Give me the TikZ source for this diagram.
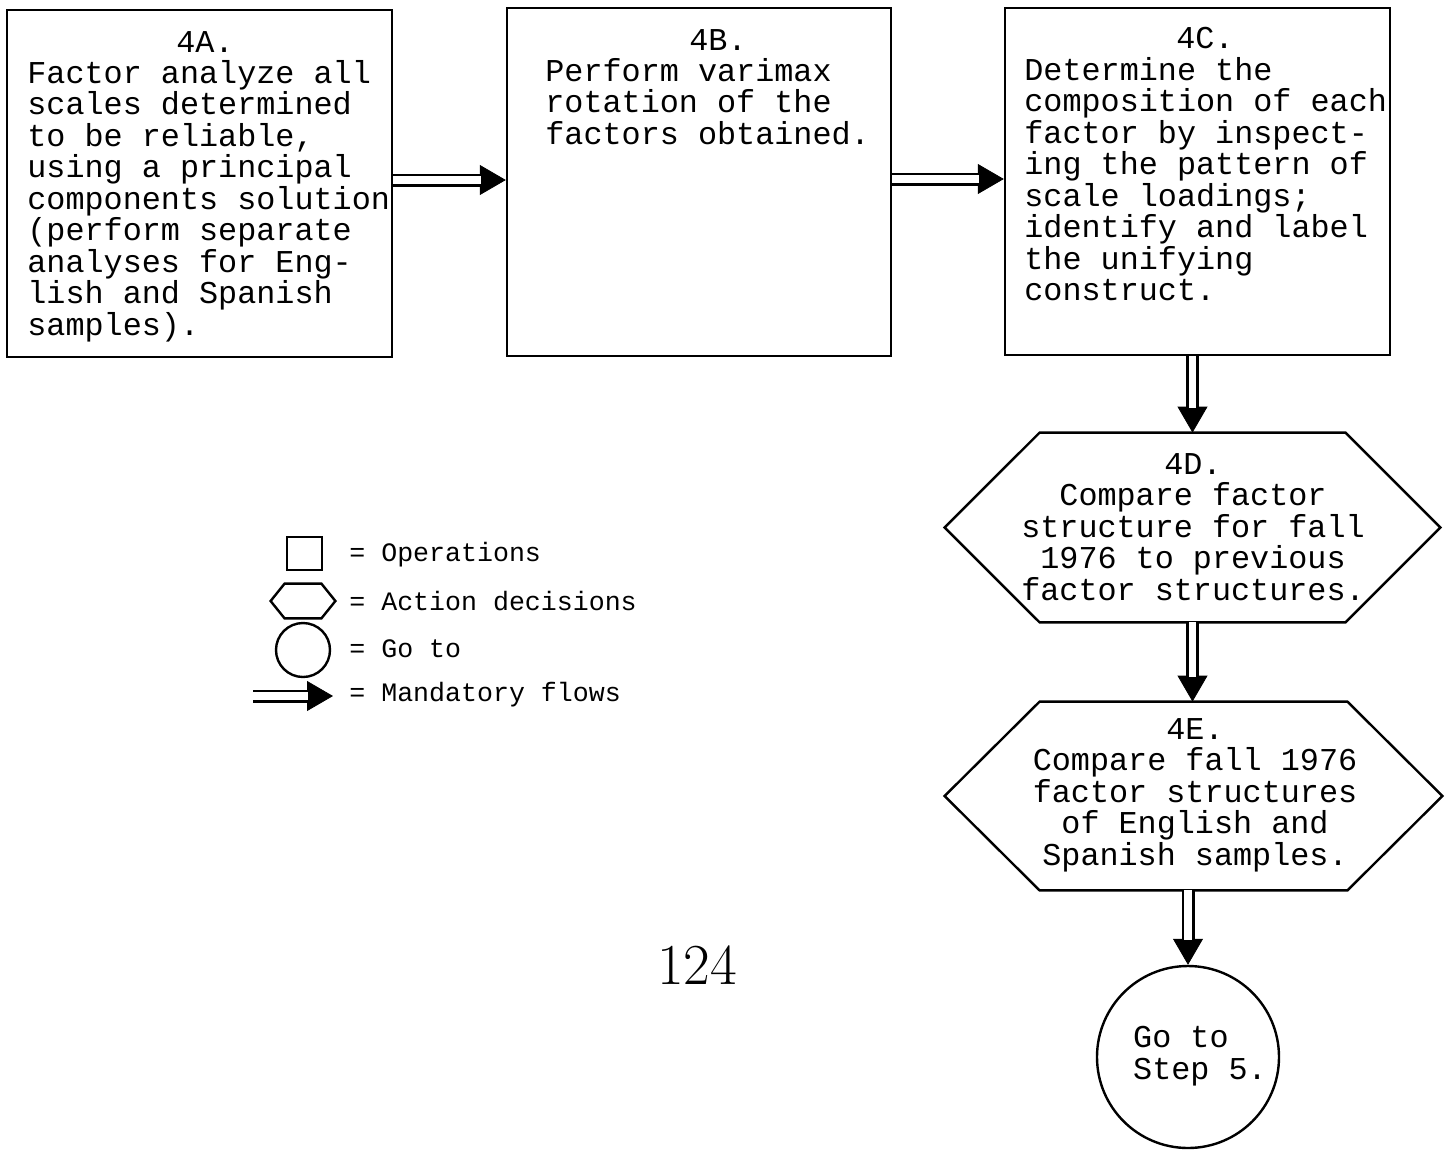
\documentclass[tikz,border=0pt]{standalone}
\usepackage{fontspec}
\setmonofont{Liberation Mono}
\usetikzlibrary{arrows.meta}

\tikzset{
  txt/.style={font=\ttfamily\fontsize{15.9}{15.75}\selectfont, inner sep=0pt},
  keytxt/.style={font=\ttfamily\fontsize{13.3}{13.3}\selectfont, inner sep=0pt, anchor=west},
  opbox/.style={draw, line width=1.2pt, minimum width=192.5pt, minimum height=173.5pt, inner sep=0pt},
  goto/.style={draw, circle, line width=1.2pt, inner sep=0pt},
  flow/.style={line width=6.5pt, -{Triangle[length=13pt,width=15pt,line width=0.4pt]},
    postaction={draw=white, line width=3.8pt, -, shorten >=12.5pt}}
}

% hexagon round a node: #1 node, #2 inset
\newcommand{\hexline}[2]{\draw[line width=1.2pt] (#1.west) -- ([xshift=#2]#1.north west)
  -- ([xshift=-#2]#1.north east) -- (#1.east) -- ([xshift=-#2]#1.south east)
  -- ([xshift=#2]#1.south west) -- cycle;}

\begin{document}
\begin{tikzpicture}[x=0.5pt, y=-0.5pt]
\useasboundingbox (0,0) rectangle (1452,1152);

% operations
\node[opbox] (a) at (199.5,183.5) {};
\node[txt] (a-head) at (205,42) {4A.};
\node[txt, align=left, anchor=north west] (a-text) at (27,60)
  {Factor analyze all\\scales determined\\to be reliable,\\using a principal\\components solution\\(perform separate\\analyses for Eng-\\lish and Spanish\\samples).};

\node[opbox, minimum width=192pt, minimum height=174pt] (b) at (699,182) {};
\node[txt] (b-head) at (718,40) {4B.};
\node[txt, align=left, anchor=north west] (b-text) at (545,58)
  {Perform varimax\\rotation of the\\factors obtained.};

\node[opbox] (c) at (1197.5,181.5) {};
\node[txt] (c-head) at (1205,38) {4C.};
\node[txt, align=left, anchor=north west] (c-text) at (1024,57)
  {Determine the\\composition of each\\factor by inspect-\\ing the pattern of\\scale loadings;\\identify and label\\the unifying\\construct.};

% action decisions
\node[minimum width=247.5pt, minimum height=94.5pt, inner sep=0pt] (d) at (1192.5,527.5) {};
\hexline{d}{47.5pt}
\node[txt, align=center] (d-text) at (1193,527)
  {4D.\\Compare factor\\structure for fall\\1976 to previous\\factor structures.};

\node[minimum width=248.5pt, minimum height=94pt, inner sep=0pt] (e) at (1193.5,796) {};
\hexline{e}{47.5pt}
\node[txt, align=center] (e-text) at (1195,795)
  {4E.\\Compare fall 1976\\factor structures\\of English and\\Spanish samples.};

% go to
\node[goto, minimum size=91pt] (g) at (1188,1057) {};
\node[txt, align=left] (g-text) at (1200,1056) {Go to\\Step 5.};

% mandatory flows
\draw[flow] ([yshift=1.75pt]a.east) -- ([yshift=1.75pt]a.east -| b.west);
\draw[flow] ([yshift=1.5pt]b.east) -- ([yshift=1.5pt]b.east -| c.west);
\draw[flow] (c.south -| d.north) -- (d.north);
\draw[flow] (d.south) -- (d.south |- e.north);
\draw[flow] (e.south -| g.north) -- (g.north);

% legend
\node[draw, line width=1.2pt, minimum width=17.5pt, minimum height=16.5pt, inner sep=0pt] (k-op) at (304.5,553.5) {};
\node[minimum width=32pt, minimum height=17pt, inner sep=0pt] (k-dec) at (303,601) {};
\hexline{k-dec}{7pt}
\node[goto, minimum size=27pt] (k-go) at (303,650) {};
\coordinate (k-from) at (253,696);
\coordinate (k-to) at (333,696);
\draw[flow] (k-from) -- (k-to);

\node[keytxt] (l-op) at (349,555) {= Operations};
\node[keytxt] (l-dec) at (349,601) {= Action decisions};
\node[keytxt] (l-go) at (349,649) {= Go to};
\node[keytxt] (l-flow) at (349,695) {= Mandatory flows};

% page number
\node[font=\fontsize{29}{29}\selectfont] (page) at (697,965) {124};
\end{tikzpicture}
\end{document}
